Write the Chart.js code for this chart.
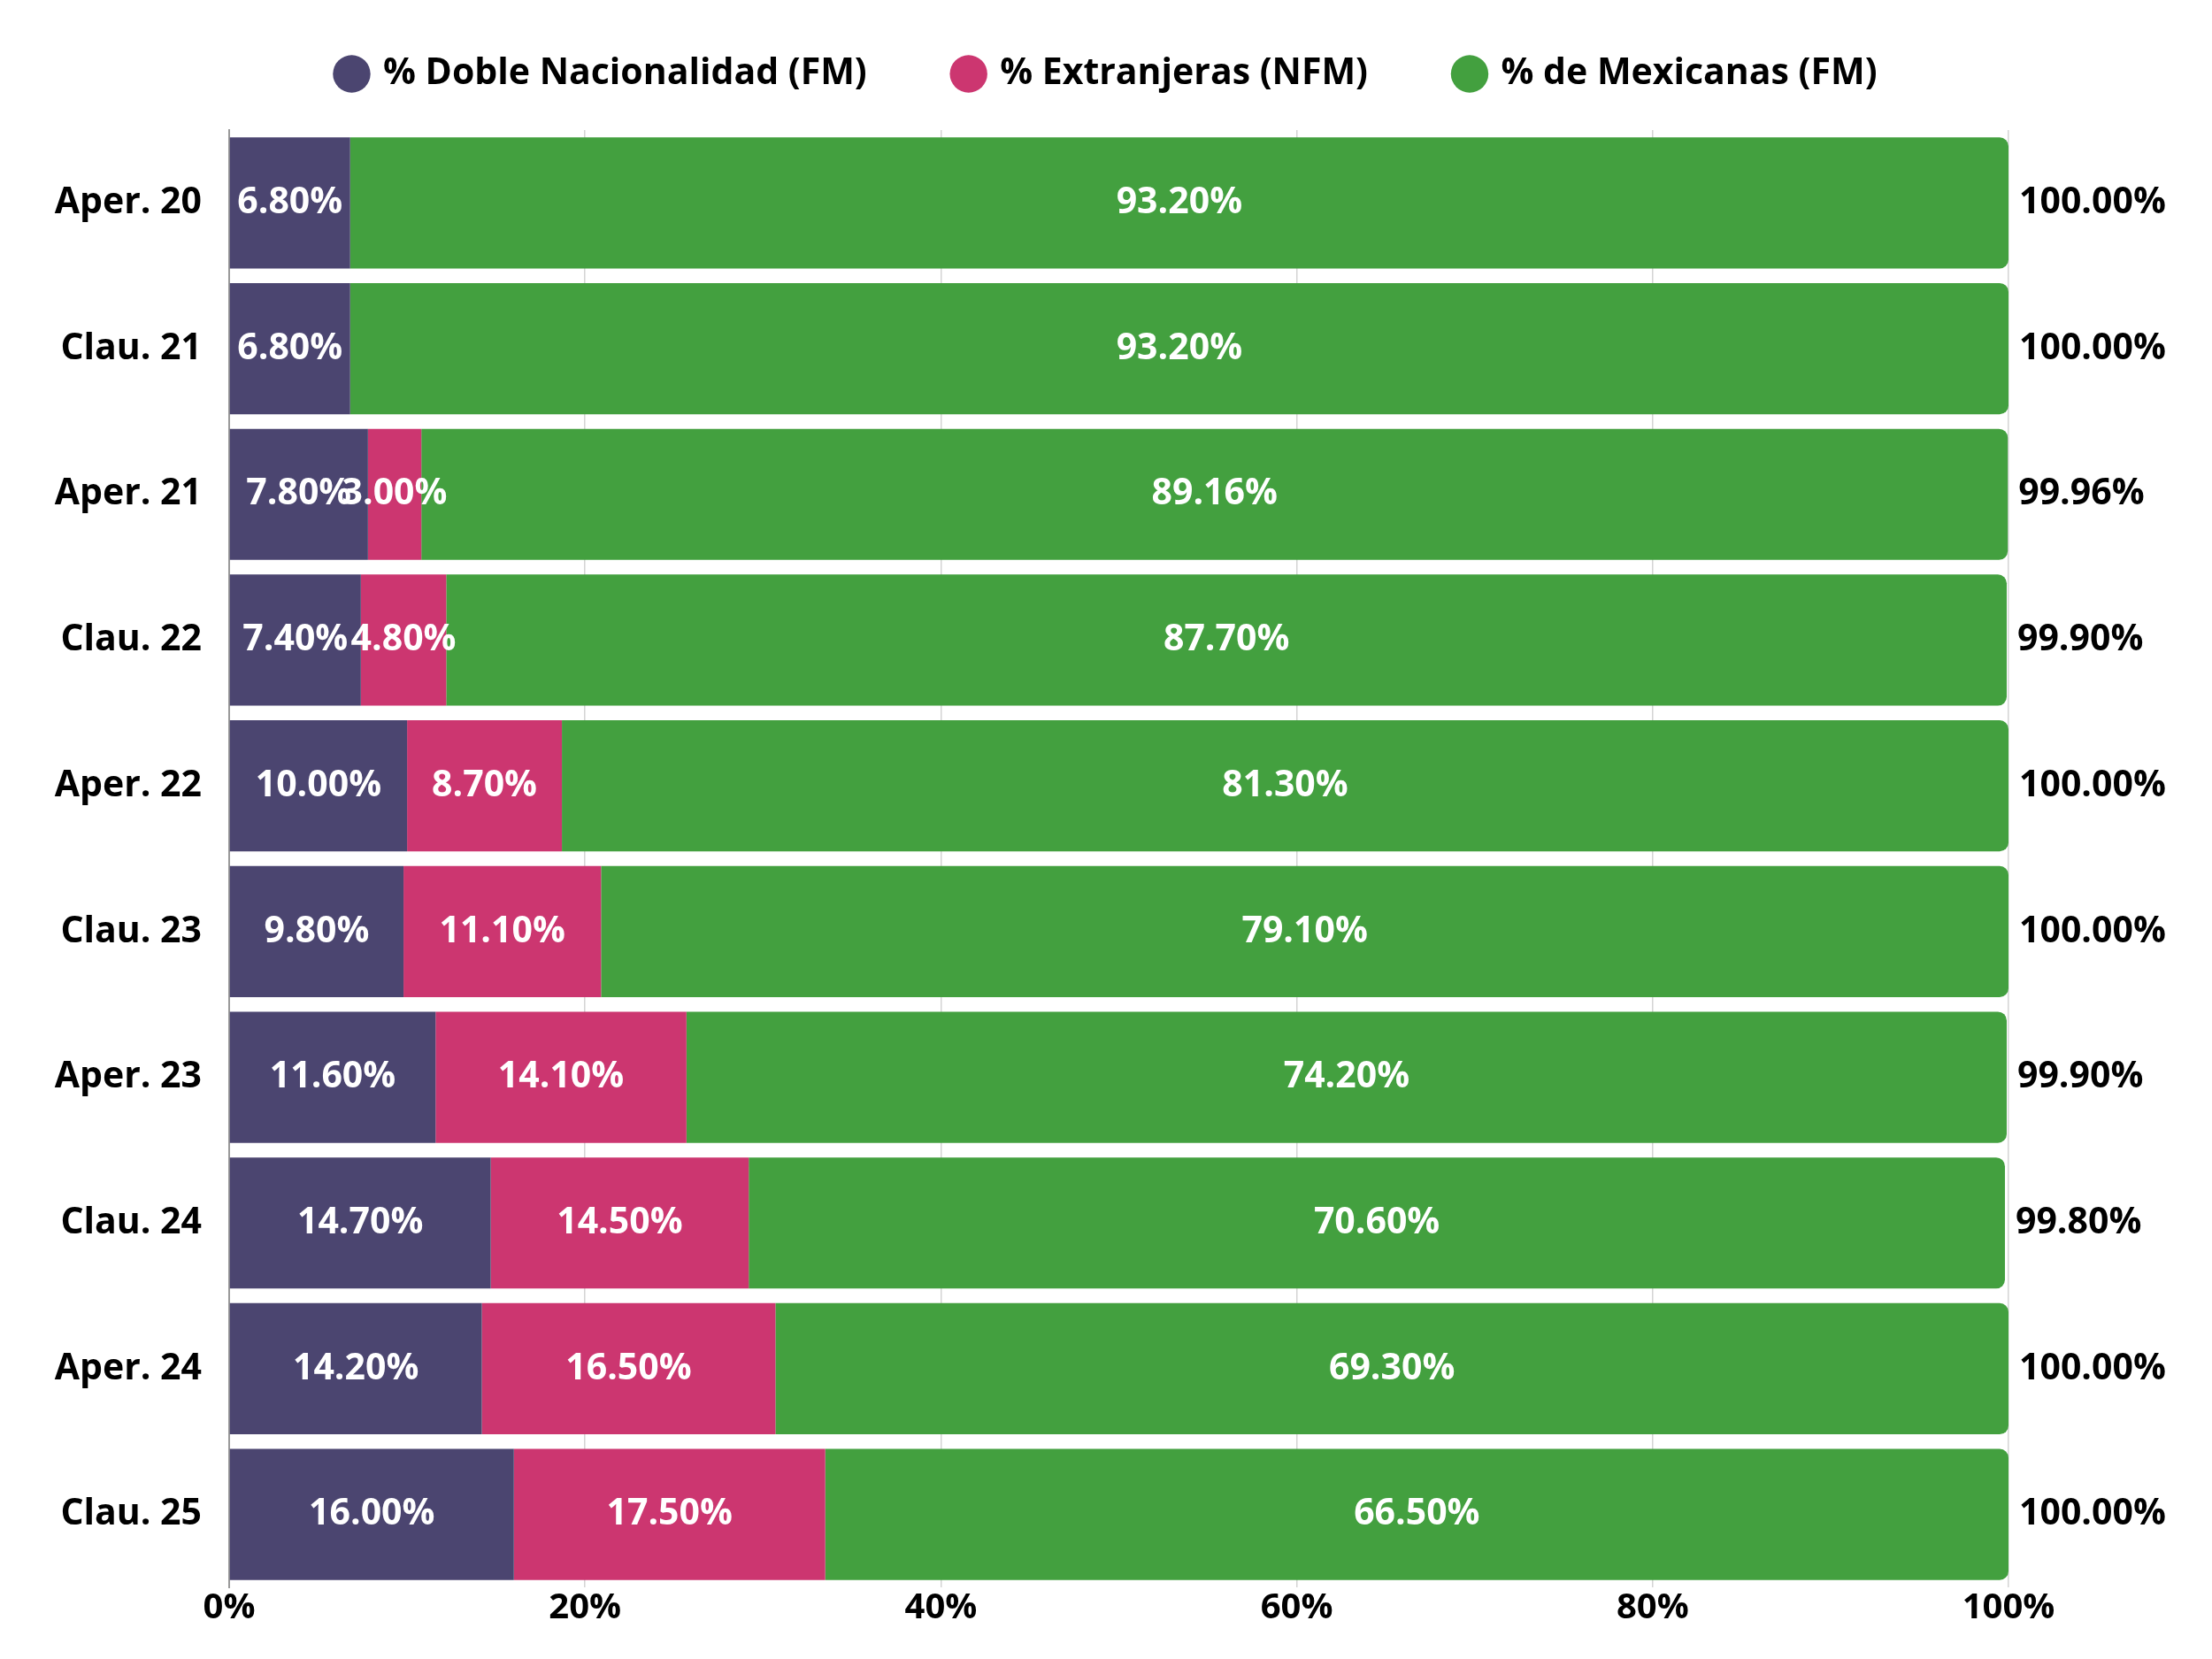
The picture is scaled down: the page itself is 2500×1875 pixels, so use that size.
<!DOCTYPE html>
<html>
<head>
<meta charset="utf-8">
<script src="https://cdn.jsdelivr.net/npm/chart.js@4.4.1/dist/chart.umd.min.js"></script>
<style>
  html, body { margin: 0; padding: 0; background: #fff; }
  #wrap { width: 2500px; height: 1875px; position: relative; }
</style>
</head>
<body>
<div id="wrap"><canvas id="chart"></canvas></div>
<script>
// Data
const periods = ['Aper. 20', 'Clau. 21', 'Aper. 21', 'Clau. 22', 'Aper. 22', 'Clau. 23', 'Aper. 23', 'Clau. 24', 'Aper. 24', 'Clau. 25'];
const dobleNacionalidad = [6.80, 6.80, 7.80, 7.40, 10.00, 9.80, 11.60, 14.70, 14.20, 16.00];
const extranjeras = [0, 0, 3.00, 4.80, 8.70, 11.10, 14.10, 14.50, 16.50, 17.50];
const mexicanas = [93.20, 93.20, 89.16, 87.70, 81.30, 79.10, 74.20, 70.60, 69.30, 66.50];
const xTicks = [0, 20, 40, 60, 80, 100];

const FONT = '"Open Sans", Lato, sans-serif';

// Value labels inside segments and totals after the bars
const barLabels = {
  id: 'barLabels',
  afterDatasetsDraw(chart) {
    const ctx = chart.ctx;
    ctx.save();
    ctx.font = `bold 41px ${FONT}`;
    ctx.textBaseline = 'middle';
    chart.data.datasets.forEach((ds, di) => {
      const meta = chart.getDatasetMeta(di);
      meta.data.forEach((bar, i) => {
        const v = ds.data[i];
        if (!v) return;
        ctx.fillStyle = '#ffffff';
        ctx.textAlign = 'center';
        ctx.fillText(v.toFixed(2) + '%', (bar.x + bar.base) / 2, bar.y);
      });
    });
    // totals
    const last = chart.getDatasetMeta(chart.data.datasets.length - 1);
    last.data.forEach((bar, i) => {
      const total = chart.data.datasets.reduce((a, ds) => a + (ds.data[i] || 0), 0);
      ctx.fillStyle = '#000000';
      ctx.textAlign = 'left';
      ctx.fillText(total.toFixed(2) + '%', bar.x + 12, bar.y);
    });
    ctx.restore();
  }
};

// give the legend a fixed block height, centre it on the page
const legendSpace = {
  id: 'legendSpace',
  beforeInit(chart) {
    const fit = chart.legend.fit;
    chart.legend.fit = function () {
      fit.call(this);
      this.height = 147;
    };
  },
  afterLayout(chart) {
    const lg = chart.legend;
    lg.top -= 37;
    lg.left += 117;
    lg.right += 117;
  }
};

new Chart(document.getElementById('chart'), {
  type: 'bar',
  data: {
    labels: periods,
    datasets: [
      { label: '% Doble Nacionalidad (FM)', data: dobleNacionalidad, backgroundColor: '#4B4570' },
      { label: '% Extranjeras (NFM)', data: extranjeras, backgroundColor: '#CC3670' },
      { label: '% de Mexicanas (FM)', data: mexicanas, backgroundColor: '#43A03F', borderRadius: 10 }
    ]
  },
  options: {
    indexAxis: 'y',
    responsive: true,
    maintainAspectRatio: false,
    animation: false,
    barPercentage: 0.9,
    categoryPercentage: 1.0,
    layout: { padding: { top: 0, right: 230, bottom: 33, left: 0 } },
    plugins: {
      tooltip: { enabled: false },
      legend: {
        position: 'top',
        labels: {
          usePointStyle: true,
          pointStyle: 'circle',
          boxWidth: 30,
          boxHeight: 30,
          padding: 100,
          color: '#000',
          font: { family: FONT, size: 41, weight: 'bold' }
        }
      }
    },
    scales: {
      x: {
        stacked: true,
        min: 0,
        max: 100,
        afterBuildTicks: scale => { scale.ticks = xTicks.map(v => ({ value: v })); },
        ticks: {
          padding: 0,
          color: '#000',
          font: { family: FONT, size: 40, weight: 'bold' },
          callback: v => v + '%'
        },
        grid: { color: '#d4d4d4', lineWidth: 1.5, drawTicks: false },
        border: { display: false }
      },
      y: {
        stacked: true,
        afterFit: scale => { scale.width = 259; },
        ticks: {
          padding: 31,
          color: '#000',
          font: { family: FONT, size: 41, weight: 'bold' }
        },
        grid: { display: false, drawTicks: false },
        border: { display: true, color: '#9a9a9a', width: 2 }
      }
    }
  },
  plugins: [barLabels, legendSpace]
});
</script>
</body>
</html>
